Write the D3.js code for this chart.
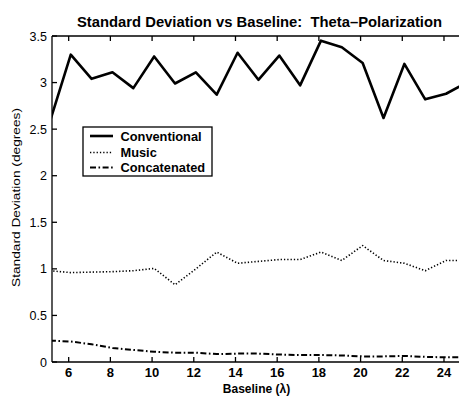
<!DOCTYPE html>
<html>
<head>
<meta charset="utf-8">
<script src="https://cdn.jsdelivr.net/npm/d3@7"></script>
<style>
  html, body { margin: 0; padding: 0; background: #fff; }
  svg { display: block; font-family: "Liberation Sans", Arial, Helvetica, sans-serif; }
</style>
</head>
<body>
<svg id="chart" width="459" height="396"></svg>
<script>
// Baseline positions (wavelengths) and standard deviation of the theta estimate
const baseline = [5.1, 6.1, 7.1, 8.1, 9.1, 10.1, 11.1, 12.1, 13.1, 14.1, 15.1,
                  16.1, 17.1, 18.1, 19.1, 20.1, 21.1, 22.1, 23.1, 24.1, 25.1];
const conventional = [2.58, 3.30, 3.04, 3.11, 2.94, 3.28, 2.99, 3.11, 2.87, 3.32, 3.03,
                      3.29, 2.97, 3.45, 3.38, 3.21, 2.62, 3.20, 2.82, 2.88, 3.00];
const music = [0.98, 0.96, 0.965, 0.97, 0.98, 1.005, 0.83, 1.00, 1.18, 1.06, 1.08,
               1.10, 1.10, 1.18, 1.09, 1.25, 1.09, 1.06, 0.98, 1.09, 1.09];
const concatenated = [0.23, 0.22, 0.19, 0.15, 0.13, 0.11, 0.10, 0.10, 0.085, 0.09, 0.09,
                      0.08, 0.075, 0.075, 0.07, 0.06, 0.06, 0.065, 0.055, 0.05, 0.05];

const seriesNames = ["Conventional", "Music", "Concatenated"];
const xTicks = [6, 8, 10, 12, 14, 16, 18, 20, 22, 24];
const yTicks = [0, 0.5, 1, 1.5, 2, 2.5, 3, 3.5];
const yTickLabels = ["0", "0.5", "1", "1.5", "2", "2.5", "3", "3.5"];

const titleText = "Standard Deviation vs Baseline:  Theta\u2013Polarization";
const xLabelText = "Baseline (\u03bb)";
const yLabelText = "Standard Deviation (degrees)";

const svg = d3.select("#chart");
const plotLeft = 52, plotTop = 36, plotBottom = 362, plotRight = 469;

const x = d3.scaleLinear().domain([5.2, 25.2]).range([plotLeft, plotRight]);
const y = d3.scaleLinear().domain([0, 3.5]).range([plotBottom, plotTop]);

svg.append("defs").append("clipPath").attr("id", "plotClip")
  .append("rect").attr("x", plotLeft).attr("y", plotTop - 2)
  .attr("width", plotRight - plotLeft).attr("height", plotBottom - plotTop + 4);

// Series lines
const styles = [
  { data: conventional, width: 2.6, dash: null },
  { data: music, width: 1.6, dash: "1.3,2" },
  { data: concatenated, width: 2, dash: "6,2.5,1.6,2.5" }
];

const line = d3.line().x(d => x(d[0])).y(d => y(d[1]));
const plot = svg.append("g").attr("clip-path", "url(#plotClip)");
styles.forEach(s => {
  plot.append("path")
    .datum(baseline.map((b, i) => [b, s.data[i]]))
    .attr("d", line)
    .attr("fill", "none")
    .attr("stroke", "#000")
    .attr("stroke-width", s.width)
    .attr("stroke-linejoin", "round")
    .attr("stroke-dasharray", s.dash);
});

// Axes box with inward ticks
const axisG = svg.append("g").attr("stroke", "#000").attr("stroke-width", 1.3);
axisG.append("line").attr("x1", plotLeft).attr("x2", plotLeft).attr("y1", plotTop).attr("y2", plotBottom);
axisG.append("line").attr("x1", plotLeft).attr("x2", plotRight).attr("y1", plotBottom).attr("y2", plotBottom);
axisG.append("line").attr("x1", plotLeft).attr("x2", plotRight).attr("y1", plotTop).attr("y2", plotTop);

const tickLen = 5;
xTicks.forEach(t => {
  axisG.append("line").attr("x1", x(t)).attr("x2", x(t)).attr("y1", plotBottom).attr("y2", plotBottom - tickLen);
  axisG.append("line").attr("x1", x(t)).attr("x2", x(t)).attr("y1", plotTop).attr("y2", plotTop + tickLen);
});
yTicks.forEach(t => {
  axisG.append("line").attr("x1", plotLeft).attr("x2", plotLeft + tickLen).attr("y1", y(t)).attr("y2", y(t));
});

// Tick labels
svg.append("g").selectAll("text").data(xTicks).join("text")
  .attr("x", d => x(d)).attr("y", 377)
  .attr("text-anchor", "middle")
  .attr("font-size", 13).attr("font-weight", "bold")
  .text(d => d);

svg.append("g").selectAll("text").data(yTicks).join("text")
  .attr("x", 47).attr("y", d => y(d))
  .attr("dy", "0.36em")
  .attr("text-anchor", "end")
  .attr("font-size", 12.5)
  .text((d, i) => yTickLabels[i]);

// Title and axis labels
svg.append("text").attr("x", 259.5).attr("y", 26.7)
  .attr("text-anchor", "middle").attr("font-size", 14.8).attr("font-weight", "bold")
  .style("white-space", "pre")
  .text(titleText);

svg.append("text").attr("x", 256.5).attr("y", 393)
  .attr("text-anchor", "middle").attr("font-size", 12).attr("font-weight", "bold")
  .text(xLabelText);

svg.append("text")
  .attr("transform", "translate(19.5,197.5) rotate(-90)")
  .attr("text-anchor", "middle").attr("font-size", 11)
  .attr("textLength", 179).attr("lengthAdjust", "spacingAndGlyphs")
  .text(yLabelText);

// Legend
const legend = svg.append("g");
legend.append("rect").attr("x", 83).attr("y", 127).attr("width", 129).attr("height", 49)
  .attr("fill", "#fff").attr("stroke", "#000").attr("stroke-width", 1.3);
const rowY = [136, 152.5, 167.5];
seriesNames.forEach((name, i) => {
  legend.append("line").attr("x1", 90).attr("x2", 113).attr("y1", rowY[i]).attr("y2", rowY[i])
    .attr("stroke", "#000").attr("stroke-width", styles[i].width)
    .attr("stroke-dasharray", styles[i].dash);
  legend.append("text").attr("x", 120.5).attr("y", rowY[i]).attr("dy", "0.36em")
    .attr("font-size", 12.8).attr("font-weight", "bold")
    .text(name);
});
</script>
</body>
</html>
